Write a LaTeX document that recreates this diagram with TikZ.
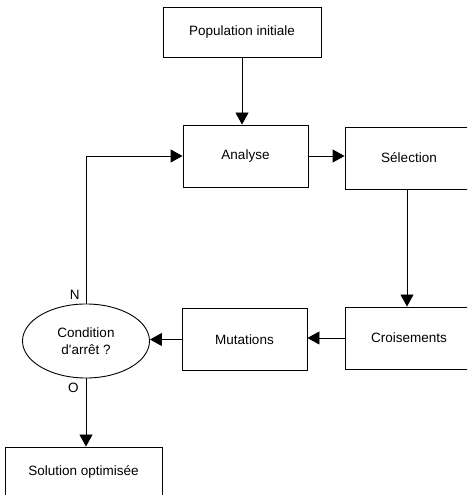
\documentclass[tikz,border=0pt]{standalone}
\usepackage{fontspec}
\setmainfont{Liberation Sans}
\usetikzlibrary{arrows.meta, shapes.geometric}

\begin{document}
\begin{tikzpicture} [x=1pt, y=1pt, line width=0.9pt,
        boite/.style={draw, rectangle, inner sep=0pt, minimum height=62pt,
            font=\fontsize{13.5}{16}\selectfont},
        fleche/.style={-{Triangle[length=12pt,width=13pt]}},
        lettre/.style={font=\fontsize{13.5}{16}\selectfont, inner sep=2pt}]
        \useasboundingbox (0,0) rectangle (467,495);
        \clip (0,0) rectangle (467,495);

        \node[boite, minimum width=158pt, minimum height=50pt] (pop) at (242,463) {Population initiale};

        \node[boite, minimum width=125pt] (ana) at (245.5,339) {Analyse};
        \node[boite, minimum width=128pt] (sel) at (409,337) {S\'election};

        \node[boite, minimum width=128pt] (cro) at (409,157) {Croisements};
        \node[boite, minimum width=125pt] (mut) at (244.5,155.5) {Mutations};

        \node[draw, ellipse, inner sep=0pt, minimum width=127pt, minimum height=74pt,
            align=center, font=\fontsize{13.5}{17}\selectfont] (cond) at (86,154)
            {Condition\\d\textquotesingle arr\^et ?};

        \node[boite, minimum width=157pt, minimum height=50pt] (sol) at (83.5,23) {Solution optimis\'ee};

        \draw[fleche] (pop.south) -- (pop.south |- ana.north);
        \draw[fleche] (ana.east) -- (sel.west |- ana.east);
        \draw[fleche] ([xshift=-2pt]sel.south) -- ([xshift=-2pt]cro.north);
        \draw[fleche] (cro.west) -- (mut.east |- cro.west);
        \draw[fleche] (mut.west) -- (cond.east |- mut.west);
        \draw[fleche] (cond.north) |- (ana.west);
        \draw[fleche] (cond.south) -- (sol.north -| cond.south);

        \node[lettre, anchor=south east] (non) at ([xshift=-4pt,yshift=2pt]cond.north) {N};
        \node[lettre, anchor=north east] (oui) at ([xshift=-5pt,yshift=-2pt]cond.south) {O};
    \end{tikzpicture}
\end{document}
